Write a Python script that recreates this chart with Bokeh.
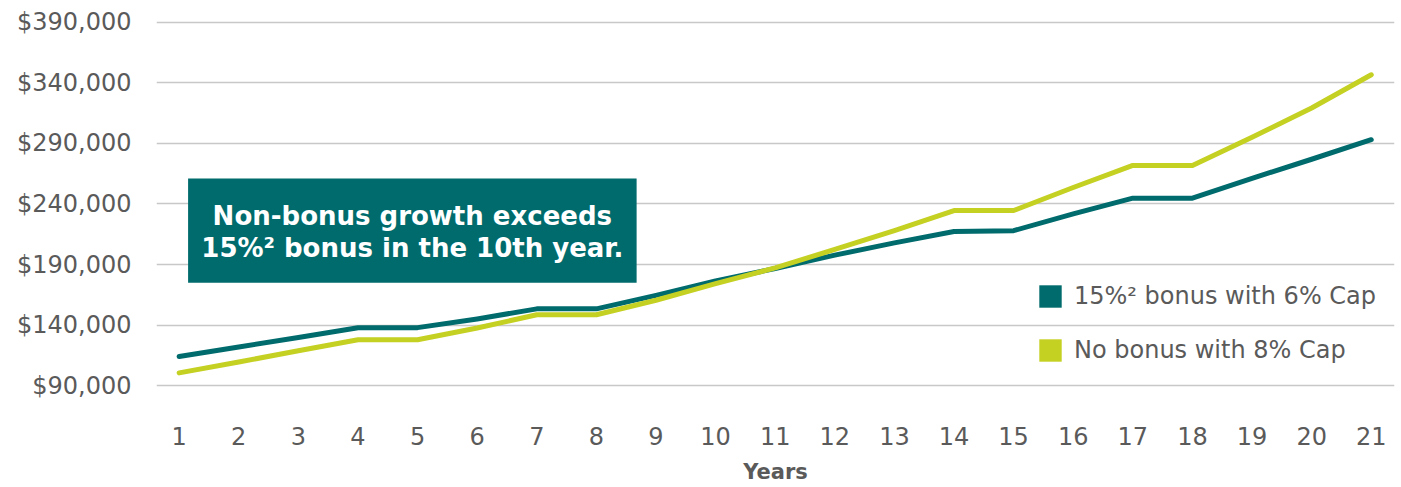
from bokeh.plotting import figure
from bokeh.models import (FixedTicker, NumeralTickFormatter, Legend, LegendItem,
                          BoxAnnotation, Label, Range1d)
from bokeh.embed import file_html
from bokeh.resources import INLINE

years = list(range(1, 22))
year_labels = [str(y) for y in years]
bonus_6_cap = [114200, 122100, 129900, 137900, 138000, 145200, 153500, 153500,
               164600, 176500, 186800, 197800, 207900, 217300, 218000, 231800,
               244800, 244800, 261100, 276900, 293000]
no_bonus_8_cap = [100700, 109700, 118900, 128000, 128000, 137700, 148600, 148600,
                  160600, 174300, 187300, 202500, 218000, 234600, 234600, 253600,
                  271800, 271800, 295000, 319200, 346600]
y_ticks = [90000, 140000, 190000, 240000, 290000, 340000, 390000]
series_names = ["15%\u00b2 bonus with 6% Cap", "No bonus with 8% Cap"]
series_colors = ["#006B6D", "#C4D022"]
note_lines = ["Non-bonus growth exceeds", "15%\u00b2 bonus in the 10th year."]

FONT = "DejaVu Sans"
GREY = "#5a5a5a"

p = figure(width=1401, height=487, output_backend="svg", toolbar_location=None,
           x_range=Range1d(0.62, 21.39), y_range=Range1d(68000, 393000),
           min_border_left=156, min_border_right=7, min_border_top=18,
           min_border_bottom=75)
p.outline_line_color = None
p.background_fill_color = "white"
p.border_fill_color = "white"

# axes
p.xaxis.ticker = FixedTicker(ticks=years)
p.xaxis.major_label_overrides = {y: l for y, l in zip(years, year_labels)}
p.yaxis.ticker = FixedTicker(ticks=y_ticks)
p.yaxis.formatter = NumeralTickFormatter(format="$0,0")
for ax in (p.xaxis[0], p.yaxis[0]):
    ax.axis_line_color = None
    ax.major_tick_line_color = None
    ax.minor_tick_line_color = None
    ax.major_label_text_font = FONT
    ax.major_label_text_font_size = "24px"
    ax.major_label_text_color = GREY
p.yaxis.major_label_standoff = 19
p.xaxis.major_label_standoff = 8
p.xaxis.axis_label = "Years"
p.xaxis.axis_label_text_font = FONT
p.xaxis.axis_label_text_font_size = "21px"
p.xaxis.axis_label_text_font_style = "bold"
p.xaxis.axis_label_text_color = GREY
p.xaxis.axis_label_standoff = 12

p.xgrid.grid_line_color = None
p.ygrid.ticker = FixedTicker(ticks=y_ticks)
p.ygrid.grid_line_color = "#C8C8C8"
p.ygrid.grid_line_width = 1.5

# lines
for vals, c in zip([bonus_6_cap, no_bonus_8_cap], series_colors):
    p.line(years, vals, line_color=c, line_width=5, line_cap="round",
           line_join="round")

# legend swatches (quads with no drawable extent)
nan = float("nan")
items = []
for name, c in zip(series_names, series_colors):
    r = p.quad(left=[nan], right=[nan], top=[nan], bottom=[nan],
               fill_color=c, line_color=None)
    items.append(LegendItem(label=name, renderers=[r]))
legend = Legend(items=items, location=(880, 48), orientation="vertical",
                glyph_width=28, glyph_height=28, label_height=28,
                spacing=26, padding=0, margin=0, label_standoff=10,
                label_text_font=FONT, label_text_font_size="24px",
                label_text_color=GREY, background_fill_alpha=0,
                border_line_color=None)
p.add_layout(legend, "center")

# annotation box
box = BoxAnnotation(left=1.15, right=8.675, bottom=175000, top=261000,
                    fill_color="#006B6D", fill_alpha=1, line_color=None, level="overlay")
p.add_layout(box)
for txt, yv in zip(note_lines, [230500, 204100]):
    p.add_layout(Label(x=4.912, y=yv, text=txt, text_align="center",
                       text_baseline="middle", text_font=FONT,
                       text_font_style="bold", text_font_size="26px",
                       text_color="white", level="overlay"))

open("out.html", "w").write(file_html(p, INLINE))
